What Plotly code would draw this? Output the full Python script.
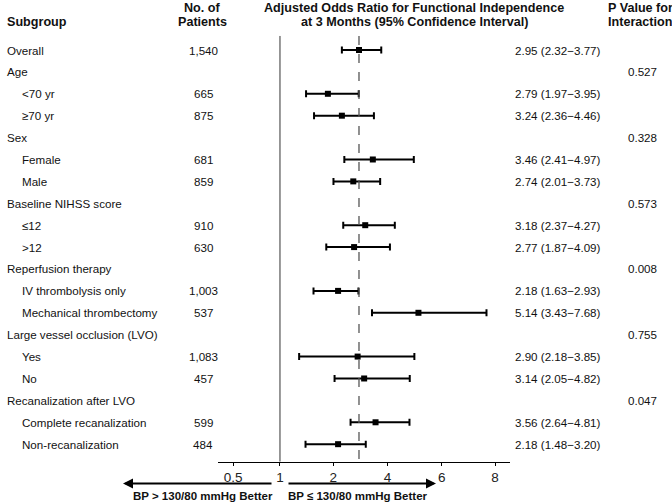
import numpy as np
import plotly.graph_objects as go

# ---------------- data ----------------
subgroups = ["Overall", "Age", "<70 yr", "≥70 yr", "Sex", "Female", "Male",
             "Baseline NIHSS score", "≤12", ">12", "Reperfusion therapy",
             "IV thrombolysis only", "Mechanical thrombectomy",
             "Large vessel occlusion (LVO)", "Yes", "No",
             "Recanalization after LVO", "Complete recanalization",
             "Non-recanalization"]
indent = [0, 0, 1, 1, 0, 1, 1, 0, 1, 1, 0, 1, 1, 0, 1, 1, 0, 1, 1]
patients = ["1,540", "", "665", "875", "", "681", "859", "", "910", "630", "",
            "1,003", "537", "", "1,083", "457", "", "599", "484"]
or_labels = ["2.95 (2.32−3.77)", "", "2.79 (1.97−3.95)", "3.24 (2.36−4.46)", "",
             "3.46 (2.41−4.97)", "2.74 (2.01−3.73)", "", "3.18 (2.37−4.27)",
             "2.77 (1.87−4.09)", "", "2.18 (1.63−2.93)", "5.14 (3.43−7.68)", "",
             "2.90 (2.18−3.85)", "3.14 (2.05−4.82)", "", "3.56 (2.64−4.81)",
             "2.18 (1.48−3.20)"]
p_values = ["", "0.527", "", "", "0.328", "", "", "0.573", "", "", "0.008", "", "",
            "0.755", "", "", "0.047", "", ""]

# drawn estimates / whiskers (None = header row)
or_est = [2.95, None, 1.90, 2.32, None, 3.46, 2.74, None, 3.18, 2.77, None,
          2.18, 5.14, None, 2.90, 3.14, None, 3.56, 2.18]
ci_lo = [2.32, None, 1.49, 1.64, None, 2.41, 2.01, None, 2.37, 1.87, None,
         1.63, 3.43, None, 1.36, 2.05, None, 2.64, 1.48]
ci_hi = [3.77, None, 2.94, 3.50, None, 4.97, 3.73, None, 4.27, 4.09, None,
         2.93, 7.68, None, 4.99, 4.82, None, 4.81, 3.20]
overall_or = 2.95
null_or = 1

tick_values = [0.5, 1, 2, 4, 6, 8]
tick_labels = ["0.5", "1", "2", "4", "6", "8"]

# axis scale used by the original figure (piecewise, roughly even spacing)
scale_pos = [-0.87, 0.0, 0.99, 2.0, 3.01, 4.0]


def tr(v):
    return float(np.interp(v, tick_values, scale_pos))


W, H = 672, 502
FONT = "Liberation Sans, Arial, Helvetica, sans-serif"
BODY = 11.6
HEAD = 12.6

rows = [i for i, e in enumerate(or_est) if e is not None]
xs = [tr(or_est[i]) for i in rows]
err_plus = [tr(ci_hi[i]) - tr(or_est[i]) for i in rows]
err_minus = [tr(or_est[i]) - tr(ci_lo[i]) for i in rows]

fig = go.Figure()
fig.add_trace(go.Scatter(
    x=xs, y=rows, mode="markers",
    marker=dict(symbol="square", size=6, color="black"),
    error_x=dict(type="data", symmetric=False, array=err_plus,
                 arrayminus=err_minus, color="black", thickness=2, width=3.5),
    showlegend=False, hoverinfo="skip", cliponaxis=False,
))

ann = []


def px_x(p):
    return p / W


def px_y(p):
    return 1 - p / H


# headers
ann.append(dict(text="<b>Subgroup</b>", x=px_x(5), y=px_y(22), xanchor="left",
                yanchor="middle", font=dict(size=HEAD)))
ann.append(dict(text="<b>No. of</b>", x=px_x(202), y=px_y(8), xanchor="center",
                yanchor="middle", font=dict(size=HEAD)))
ann.append(dict(text="<b>Patients</b>", x=px_x(202), y=px_y(22), xanchor="center",
                yanchor="middle", font=dict(size=HEAD)))
ann.append(dict(text="<b>Adjusted Odds Ratio for Functional Independence</b>",
                x=px_x(414), y=px_y(8), xanchor="center", yanchor="middle",
                font=dict(size=HEAD)))
ann.append(dict(text="<b>at 3 Months (95% Confidence Interval)</b>",
                x=px_x(414), y=px_y(22), xanchor="center", yanchor="middle",
                font=dict(size=HEAD)))
ann.append(dict(text="<b>P Value for</b>", x=px_x(606), y=px_y(8), xanchor="left",
                yanchor="middle", font=dict(size=HEAD)))
ann.append(dict(text="<b>Interaction</b>", x=px_x(606), y=px_y(22), xanchor="left",
                yanchor="middle", font=dict(size=HEAD)))

for i, name in enumerate(subgroups):
    ann.append(dict(text=name, x=px_x(5 + 15 * indent[i]), y=i, yref="y",
                    xanchor="left", yanchor="middle", font=dict(size=BODY)))
    if patients[i]:
        ann.append(dict(text=patients[i], x=px_x(203), y=i, yref="y",
                        xanchor="center", yanchor="middle", font=dict(size=BODY)))
    if or_labels[i]:
        ann.append(dict(text=or_labels[i], x=px_x(513), y=i, yref="y",
                        xanchor="left", yanchor="middle", font=dict(size=BODY)))
    if p_values[i]:
        ann.append(dict(text=p_values[i], x=px_x(642), y=i, yref="y",
                        xanchor="center", yanchor="middle", font=dict(size=BODY)))

# direction arrows
ann.append(dict(text="", x=px_x(123), y=px_y(483.5), ax=150, ay=0,
                showarrow=True, arrowhead=2, arrowsize=1, arrowwidth=2,
                arrowcolor="black"))
ann.append(dict(text="", x=px_x(436), y=px_y(483.5), ax=-149, ay=0,
                showarrow=True, arrowhead=2, arrowsize=1, arrowwidth=2,
                arrowcolor="black"))
ann.append(dict(text="<b>BP > 130/80 mmHg Better</b>", x=px_x(202.5), y=px_y(495.5),
                xanchor="center", yanchor="middle", font=dict(size=11.5)))
ann.append(dict(text="<b>BP ≤ 130/80 mmHg Better</b>", x=px_x(357.5), y=px_y(495.5),
                xanchor="center", yanchor="middle", font=dict(size=11.5)))

for a in ann:
    a.setdefault("xref", "paper")
    a.setdefault("yref", "paper")
    a.setdefault("showarrow", False)

y_top, y_bottom = -2.283, 18.8
shapes = [
    dict(type="line", xref="x", yref="y", x0=tr(null_or), x1=tr(null_or),
         y0=-0.64, y1=y_bottom, line=dict(color="#333333", width=1)),
    dict(type="line", xref="x", yref="y", x0=tr(overall_or), x1=tr(overall_or),
         y0=-0.64, y1=y_bottom, line=dict(color="#555555", width=1.3, dash="dash")),
]

fig.update_layout(
    width=W, height=H,
    margin=dict(l=0, r=0, t=0, b=0),
    paper_bgcolor="white", plot_bgcolor="white",
    font=dict(family=FONT, color="#111111"),
    annotations=ann, shapes=shapes,
    xaxis=dict(domain=[218 / W, 510 / W], range=[-1.153, 4.279],
               tickvals=[tr(v) for v in tick_values], ticktext=tick_labels,
               showgrid=False, zeroline=False, showline=True,
               linecolor="black", linewidth=1, ticks="outside", ticklen=3,
               tickcolor="black", tickfont=dict(size=13.5, color="#222222"),
               fixedrange=True),
    yaxis=dict(domain=[1 - 461.7 / H, 1], range=[y_bottom, y_top],
               visible=False, fixedrange=True),
)

fig.write_html(
    "out.html",
    config={"displayModeBar": False},
    post_script="document.body.style.margin='0';document.body.style.padding='0';"
                "document.body.style.overflow='hidden';",
)
